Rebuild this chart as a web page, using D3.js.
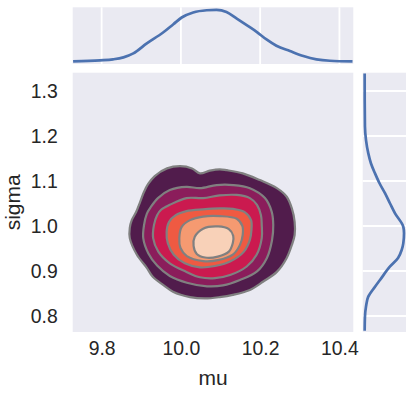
<!DOCTYPE html>
<html>
<head>
<meta charset="utf-8">
<script src="https://cdn.jsdelivr.net/npm/d3@7"></script>
<style>
  body { margin: 0; background: #fff; }
  text { font-family: "Liberation Sans", Arial, sans-serif; fill: #262626; }
</style>
</head>
<body>
<div id="chart"></div>
<script>
// tick values
const muTicks = [9.8, 10.0, 10.2, 10.4];
const sigmaTicks = [0.8, 0.9, 1.0, 1.1, 1.2, 1.3];

// marginal kde of mu: [mu, density]
const muDensity = [
  [9.728, 0.0], [9.796, 0.08], [9.829, 0.16], [9.855, 0.31], [9.880, 0.61],
  [9.914, 1.37], [9.955, 2.20], [9.981, 2.83], [10.002, 3.34], [10.031, 3.72],
  [10.065, 3.89], [10.090, 3.92], [10.115, 3.76], [10.141, 3.26], [10.166, 2.76],
  [10.191, 2.25], [10.216, 1.67], [10.241, 1.19], [10.275, 0.79], [10.309, 0.41],
  [10.342, 0.16], [10.376, 0.05], [10.433, 0.0]
];

// marginal kde of sigma: [sigma, density]
const sigmaDensity = [
  [1.339, 0.0], [1.280, 0.005], [1.221, 0.04], [1.191, 0.19], [1.162, 0.51],
  [1.139, 0.90], [1.117, 1.47], [1.095, 2.11], [1.073, 2.89], [1.050, 3.61],
  [1.028, 4.32], [0.998, 5.50], [0.984, 5.60], [0.962, 5.50], [0.947, 5.27],
  [0.929, 4.75], [0.910, 3.61], [0.880, 2.18], [0.865, 1.47], [0.843, 0.51],
  [0.821, 0.19], [0.798, 0.04], [0.767, 0.0]
];

// joint kde iso-lines, outer to inner: [mu, sigma]
const level1 = [
  [9.998, 1.133], [10.028, 1.128], [10.048, 1.117], [10.073, 1.123], [10.098, 1.126],
  [10.116, 1.124], [10.156, 1.117], [10.199, 1.102], [10.242, 1.084], [10.267, 1.065],
  [10.280, 1.039], [10.287, 1.009], [10.287, 0.980], [10.280, 0.958], [10.267, 0.929],
  [10.242, 0.898], [10.207, 0.876], [10.174, 0.858], [10.131, 0.847], [10.098, 0.842],
  [10.061, 0.839], [10.023, 0.842], [9.980, 0.854], [9.955, 0.869], [9.929, 0.887],
  [9.914, 0.907], [9.889, 0.936], [9.871, 0.973], [9.871, 0.996], [9.876, 1.013],
  [9.887, 1.031], [9.897, 1.053], [9.907, 1.076], [9.917, 1.093], [9.934, 1.111],
  [9.965, 1.128]
];
const level2 = [
  [10.014, 1.087], [10.048, 1.084], [10.090, 1.091], [10.132, 1.091], [10.174, 1.084],
  [10.212, 1.062], [10.229, 1.032], [10.233, 1.002], [10.230, 0.969], [10.217, 0.929],
  [10.192, 0.899], [10.149, 0.880], [10.106, 0.868], [10.066, 0.866], [10.015, 0.874],
  [9.972, 0.889], [9.940, 0.912], [9.918, 0.939], [9.905, 0.973], [9.907, 1.002],
  [9.914, 1.027], [9.924, 1.042], [9.942, 1.062], [9.972, 1.080]
];
const level3 = [
  [10.014, 1.062], [10.056, 1.062], [10.098, 1.068], [10.141, 1.069], [10.174, 1.062],
  [10.192, 1.047], [10.202, 1.024], [10.204, 1.002], [10.204, 0.973], [10.191, 0.936],
  [10.166, 0.910], [10.124, 0.891], [10.086, 0.884], [10.048, 0.886], [10.014, 0.898],
  [9.972, 0.917], [9.943, 0.943], [9.930, 0.973], [9.932, 1.002], [9.940, 1.024],
  [9.950, 1.036], [9.972, 1.047]
];
const level4 = [
  [10.014, 1.033], [10.056, 1.037], [10.098, 1.039], [10.132, 1.038], [10.161, 1.031],
  [10.177, 1.013], [10.178, 0.991], [10.174, 0.969], [10.159, 0.943], [10.124, 0.921],
  [10.086, 0.911], [10.048, 0.908], [10.010, 0.917], [9.982, 0.936], [9.967, 0.962],
  [9.964, 0.987], [9.970, 1.009], [9.987, 1.024]
];
const level5 = [
  [10.023, 1.013], [10.056, 1.021], [10.098, 1.022], [10.141, 1.016], [10.155, 1.000],
  [10.156, 0.980], [10.149, 0.958], [10.132, 0.937], [10.093, 0.924], [10.056, 0.922],
  [10.015, 0.933], [9.999, 0.951], [9.996, 0.973], [10.002, 0.998]
];
const level6 = [
  [10.056, 0.994], [10.094, 0.999], [10.121, 0.993], [10.132, 0.978], [10.131, 0.962],
  [10.121, 0.943], [10.093, 0.932], [10.061, 0.930], [10.040, 0.938], [10.032, 0.956],
  [10.035, 0.976]
];
const levels = [level1, level2, level3, level4, level5, level6];
const levelColors = ["#511c4c", "#8b1d5b", "#cb1a4f", "#ef5a42", "#f59a71", "#f8d1b8"];

const width = 413, height = 396;
const bg = "#eaeaf2", lineBlue = "#4c72b0";

// axes boxes
const mainBox = {x0: 72.7, x1: 353.3, y0: 72.7, y1: 332};
const topBox = {y0: 7.3, y1: 64};
const rightBox = {x0: 362.7, x1: 406};

const x = d3.scaleLinear().domain([9.727, 10.435]).range([mainBox.x0, mainBox.x1]);
const y = d3.scaleLinear().domain([0.7644, 1.3407]).range([mainBox.y1, mainBox.y0]);

// marginal density scales, matplotlib-style 5% margins
function padded(ext) {
  const p = (ext[1] - ext[0]) * 0.05;
  return [ext[0] - p, ext[1] + p];
}
const yTop = d3.scaleLinear().domain(padded(d3.extent(muDensity, d => d[1]))).range([topBox.y1, topBox.y0]);
const xRight = d3.scaleLinear().domain(padded(d3.extent(sigmaDensity, d => d[1]))).range([rightBox.x0, rightBox.x1]);

const svg = d3.select("#chart").append("svg")
    .attr("width", width)
    .attr("height", height);

svg.append("clipPath").attr("id", "mainClip")
  .append("rect")
    .attr("x", mainBox.x0).attr("y", mainBox.y0)
    .attr("width", mainBox.x1 - mainBox.x0).attr("height", mainBox.y1 - mainBox.y0);

// backgrounds
svg.append("rect")
    .attr("x", mainBox.x0).attr("y", mainBox.y0)
    .attr("width", mainBox.x1 - mainBox.x0).attr("height", mainBox.y1 - mainBox.y0)
    .attr("fill", bg);
svg.append("rect")
    .attr("x", mainBox.x0).attr("y", topBox.y0)
    .attr("width", mainBox.x1 - mainBox.x0).attr("height", topBox.y1 - topBox.y0)
    .attr("fill", bg);
svg.append("rect")
    .attr("x", rightBox.x0).attr("y", mainBox.y0)
    .attr("width", rightBox.x1 - rightBox.x0).attr("height", mainBox.y1 - mainBox.y0)
    .attr("fill", bg);

// grid in the marginals
svg.append("g")
    .attr("stroke", "#fff").attr("stroke-width", 1.8)
  .selectAll("line")
  .data(muTicks)
  .join("line")
    .attr("x1", d => x(d)).attr("x2", d => x(d))
    .attr("y1", topBox.y0).attr("y2", topBox.y1);
svg.append("g")
    .attr("stroke", "#fff").attr("stroke-width", 1.8)
  .selectAll("line")
  .data(sigmaTicks)
  .join("line")
    .attr("y1", d => y(d)).attr("y2", d => y(d))
    .attr("x1", rightBox.x0).attr("x2", rightBox.x1);

// filled kde levels
const contour = d3.line()
    .x(d => x(d[0]))
    .y(d => y(d[1]))
    .curve(d3.curveCatmullRomClosed.alpha(0.5));

svg.append("g")
    .attr("clip-path", "url(#mainClip)")
  .selectAll("path")
  .data(levels)
  .join("path")
    .attr("d", contour)
    .attr("fill", (d, i) => levelColors[i])
    .attr("stroke", "#808080")
    .attr("stroke-width", 2.2)
    .attr("stroke-linejoin", "round");

// marginal curves
svg.append("path")
    .datum(muDensity)
    .attr("fill", "none")
    .attr("stroke", lineBlue)
    .attr("stroke-width", 2.7)
    .attr("d", d3.line().x(d => x(d[0])).y(d => yTop(d[1])).curve(d3.curveMonotoneX));

svg.append("path")
    .datum(sigmaDensity)
    .attr("fill", "none")
    .attr("stroke", lineBlue)
    .attr("stroke-width", 2.7)
    .attr("d", d3.line().x(d => xRight(d[1])).y(d => y(d[0])).curve(d3.curveMonotoneY));

// axes, labels only (darkgrid style)
const xAxis = svg.append("g")
    .attr("transform", `translate(0,${mainBox.y1})`)
    .call(d3.axisBottom(x).tickValues(muTicks).tickFormat(d3.format(".1f")).tickSize(0).tickPadding(9));
xAxis.select(".domain").remove();
xAxis.selectAll("text").attr("font-size", 19.4).attr("fill", "#262626")
    .attr("font-family", "Liberation Sans, Arial, sans-serif");

const yAxis = svg.append("g")
    .attr("transform", `translate(${mainBox.x0},0)`)
    .call(d3.axisLeft(y).tickValues(sigmaTicks).tickFormat(d3.format(".1f")).tickSize(0).tickPadding(15));
yAxis.select(".domain").remove();
yAxis.selectAll("text").attr("font-size", 19.4).attr("fill", "#262626")
    .attr("font-family", "Liberation Sans, Arial, sans-serif");

svg.append("text")
    .attr("x", (mainBox.x0 + mainBox.x1) / 2)
    .attr("y", 385)
    .attr("text-anchor", "middle")
    .attr("font-size", 21)
    .text("mu");

svg.append("text")
    .attr("transform", `translate(20,${(mainBox.y0 + mainBox.y1) / 2}) rotate(-90)`)
    .attr("text-anchor", "middle")
    .attr("font-size", 21)
    .text("sigma");
</script>
</body>
</html>
